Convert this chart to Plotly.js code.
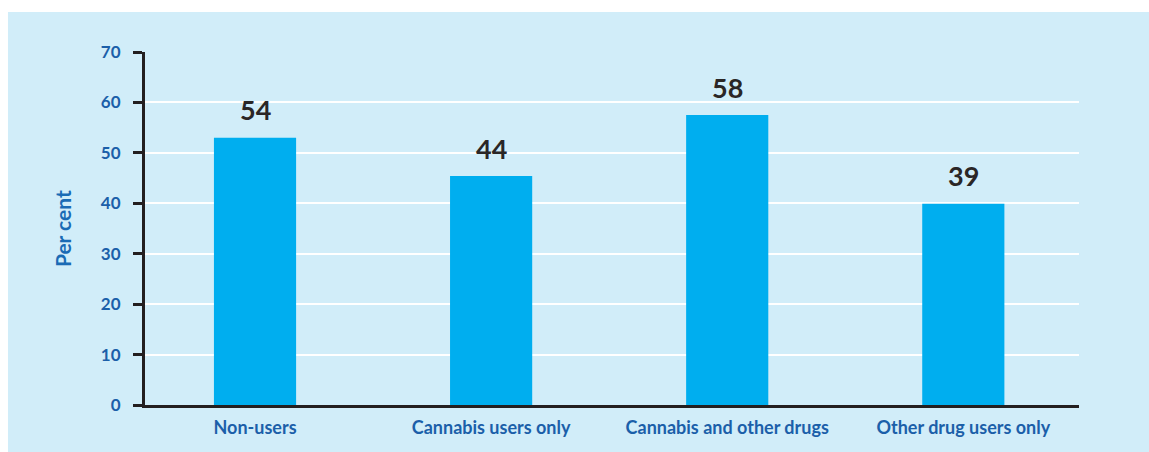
<!DOCTYPE html>
<html>
<head>
<meta charset="utf-8">
<script src="https://cdn.plot.ly/plotly-3.0.1.min.js"></script>
<style>html,body{margin:0;padding:0;background:#fff;}#chart{width:1149px;height:452px;}</style>
</head>
<body>
<div id="chart"></div>
<script>
const categories = ["Non-users", "Cannabis users only", "Cannabis and other drugs", "Other drug users only"];
const barHeights = [53, 45.4, 57.5, 39.9];
const valueLabels = ["54", "44", "58", "39"];
const yTicks = [0, 10, 20, 30, 40, 50, 60, 70];
const yTickLabels = ["0", "10", "20", "30", "40", "50", "60", "70"];
const yTitle = "Per cent";

const blueText = "#1b5fa9";
const fontFam = "Lato, 'Noto Sans', sans-serif";

const trace = {
  type: "bar",
  x: [0, 1, 2, 3],
  y: barHeights,
  width: 0.348,
  marker: {color: "#00aeef", line: {width: 0}},
  hoverinfo: "none"
};

const annotations = barHeights.map((v, i) => ({
  x: i, y: v, xref: "x", yref: "y",
  text: valueLabels[i], showarrow: false,
  yanchor: "middle", yshift: 28,
  font: {family: fontFam, size: 27, color: "#2a2626", weight: 700}
}));
annotations.push({
  x: -0.0889, y: 0.501, xref: "paper", yref: "paper",
  text: yTitle, showarrow: false, textangle: -90,
  xanchor: "center", yanchor: "middle",
  font: {family: fontFam, size: 21, color: "#1a6bb5", weight: 700}
});

const layout = {
  width: 1149, height: 452,
  margin: {l: 145, r: 70, t: 52, b: 47, pad: 0},
  paper_bgcolor: "#ffffff",
  plot_bgcolor: "rgba(0,0,0,0)",
  showlegend: false,
  shapes: [{
    type: "rect", xref: "paper", yref: "paper", layer: "below",
    x0: -0.1467, x1: 1.08, y0: -0.14, y1: 1.1133,
    fillcolor: "#d1edf9", line: {width: 0}
  }],
  xaxis: {
    range: [-0.466, 3.49],
    tickmode: "array", tickvals: [0, 1, 2, 3], ticktext: categories,
    ticks: "", showgrid: false, zeroline: false,
    showline: true, linecolor: "#231f20", linewidth: 3,
    ticklabelstandoff: 4,
    tickfont: {family: fontFam, size: 18, color: blueText, weight: 700},
    fixedrange: true
  },
  yaxis: {
    range: [0, 70],
    tickmode: "array", tickvals: yTicks, ticktext: yTickLabels,
    ticks: "outside", ticklen: 9, tickwidth: 3, tickcolor: "#231f20",
    ticklabelstandoff: 9,
    showgrid: true, gridcolor: "#ffffff", gridwidth: 2,
    zeroline: false,
    showline: true, linecolor: "#231f20", linewidth: 3,
    tickfont: {family: fontFam, size: 17, color: blueText, weight: 700},
    fixedrange: true
  },
  annotations: annotations
};

Plotly.newPlot("chart", [trace], layout, {displayModeBar: false, staticPlot: true});
</script>
</body>
</html>
